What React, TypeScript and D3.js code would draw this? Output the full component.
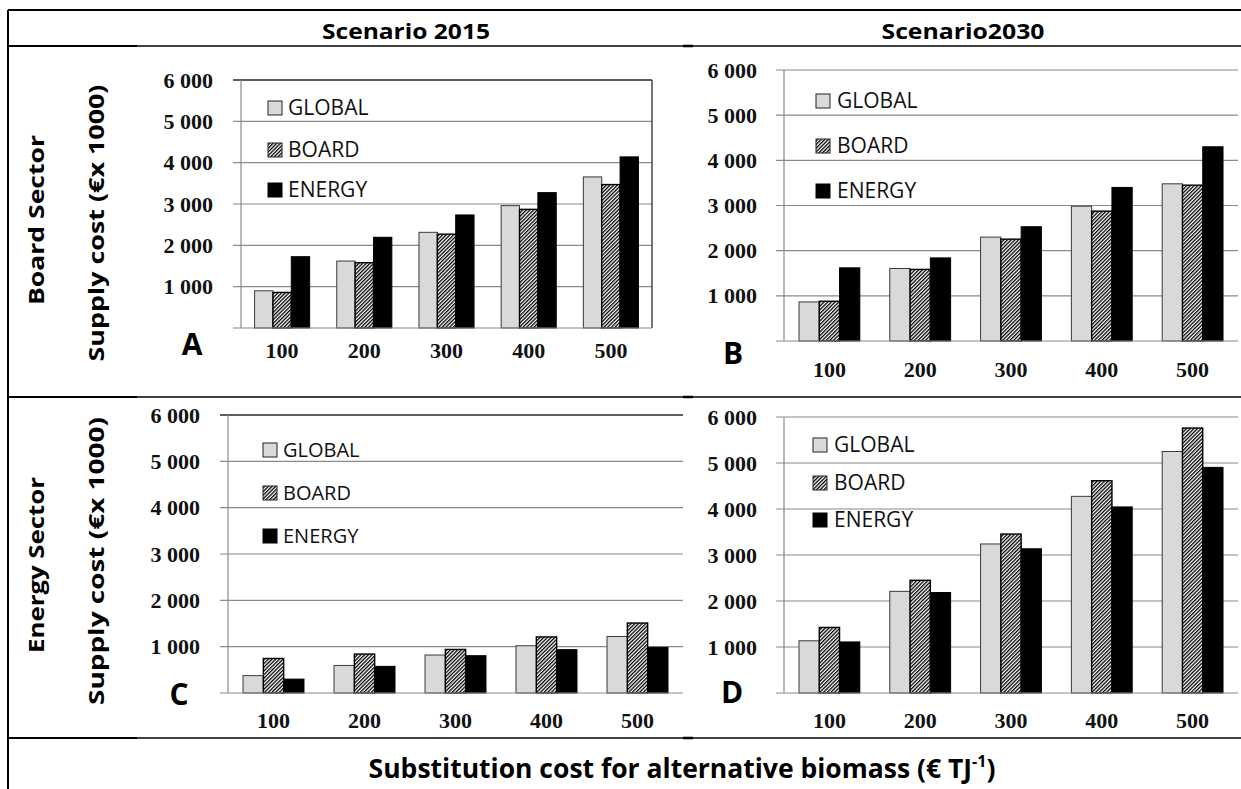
import React from "react";
import * as d3 from "d3";

// ---------- data ----------
const categories = ["100", "200", "300", "400", "500"];
const seriesNames = ["GLOBAL", "BOARD", "ENERGY"];
const yTickValues = [1000, 2000, 3000, 4000, 5000, 6000];

const boardSector2015Global = [900, 1620, 2315, 2960, 3655];
const boardSector2015Board = [860, 1580, 2270, 2870, 3470];
const boardSector2015Energy = [1725, 2195, 2735, 3275, 4140];

const boardSector2030Global = [865, 1605, 2300, 2985, 3480];
const boardSector2030Board = [880, 1585, 2255, 2875, 3450];
const boardSector2030Energy = [1620, 1840, 2530, 3400, 4300];

const energySector2015Global = [375, 595, 820, 1020, 1220];
const energySector2015Board = [745, 840, 940, 1210, 1510];
const energySector2015Energy = [300, 575, 805, 935, 985];

const energySector2030Global = [1135, 2210, 3240, 4275, 5250];
const energySector2030Board = [1425, 2450, 3455, 4615, 5760];
const energySector2030Energy = [1110, 2185, 3135, 4045, 4905];

const columnTitles = ["Scenario 2015", "Scenario2030"];
const rowTitles = ["Board Sector", "Energy Sector"];
const yAxisTitle = "Supply cost (€x 1000)";
const footerTitle = "Substitution cost for alternative biomass (€ TJ";

// ---------- layout ----------
const panels = [
  {
    id: "A", values: [boardSector2015Global, boardSector2015Board, boardSector2015Energy],
    x0: 241, x1: 652, yTop: 80, yBase: 328, tickRight: 213, labelY: 358,
    letterX: 192, letterY: 355, legX: 268, legTextX: 288, legY: [115, 157, 197], legFont: 21,
    frameTop: true, frameRight: true,
  },
  {
    id: "B", values: [boardSector2030Global, boardSector2030Board, boardSector2030Energy],
    x0: 784, x1: 1238, yTop: 70, yBase: 341, tickRight: 757, labelY: 377,
    letterX: 733, letterY: 364, legX: 816, legTextX: 837, legY: [108, 153, 198], legFont: 21,
    frameTop: false, frameRight: false,
  },
  {
    id: "C", values: [energySector2015Global, energySector2015Board, energySector2015Energy],
    x0: 228, x1: 683, yTop: 415, yBase: 693, tickRight: 200, labelY: 728,
    letterX: 179, letterY: 705, legX: 263, legTextX: 283, legY: [457, 500, 543], legFont: 20,
    frameTop: true, frameRight: false,
  },
  {
    id: "D", values: [energySector2030Global, energySector2030Board, energySector2030Energy],
    x0: 784, x1: 1238, yTop: 417, yBase: 693, tickRight: 757, labelY: 728,
    letterX: 732, letterY: 703, legX: 813, legTextX: 834, legY: [452, 490, 527], legFont: 21,
    frameTop: false, frameRight: false,
  },
];

const fmt = d3.formatLocale({ decimal: ".", thousands: " ", grouping: [3], currency: ["", ""] }).format(",");

const SANS = "'Open Sans', 'DejaVu Sans', sans-serif";
const SERIF = "'Liberation Serif', 'Times New Roman', serif";
const GRID = "#8a8a8a";

const fills = ["#d9d9d9", "url(#hatch)", "#000000"];
const strokes = ["#3a3a3a", "#000000", "#000000"];

function Panel({ p }: { p: any }) {
  const x = d3.scaleBand<string>().domain(categories).range([p.x0, p.x1]).paddingInner(0.33).paddingOuter(0.165);
  const xs = d3.scaleBand<string>().domain(seriesNames).range([0, x.bandwidth()]);
  const y = d3.scaleLinear().domain([0, 6000]).range([p.yBase, p.yTop]);
  return (
    <g>
      {/* gridlines with left ticks */}
      {yTickValues.map((t) => (
        <line key={t} x1={p.x0 - 8} x2={p.x1} y1={y(t)} y2={y(t)} stroke={GRID} strokeWidth={1.2} />
      ))}
      {p.frameTop && (
        <line x1={p.x0 - 8} x2={p.x1} y1={y(6000)} y2={y(6000)} stroke="#3c3c3c" strokeWidth={1.4} />
      )}
      {p.frameRight && (
        <line x1={p.x1} x2={p.x1} y1={y(6000)} y2={y(0)} stroke="#3c3c3c" strokeWidth={1.4} />
      )}
      {/* y axis */}
      <line x1={p.x0} x2={p.x0} y1={y(6000)} y2={y(0)} stroke={GRID} strokeWidth={1.2} />
      {/* tick labels */}
      {yTickValues.map((t) => (
        <text key={t} x={p.tickRight} y={y(t) + 7.5} textAnchor="end" fontFamily={SERIF} fontWeight="bold" fontSize={22} fill="#111">
          {fmt(t)}
        </text>
      ))}
      {/* bars */}
      {categories.map((c, i) => (
        <g key={c}>
          {seriesNames.map((s, k) => {
            const v = p.values[k][i];
            return (
              <rect
                key={s}
                x={(x(c) as number) + (xs(s) as number)}
                y={y(v)}
                width={xs.bandwidth()}
                height={y(0) - y(v)}
                fill={fills[k]}
                stroke={strokes[k]}
                strokeWidth={k === 1 ? 1.4 : 1}
              />
            );
          })}
        </g>
      ))}
      {/* baseline */}
      <line x1={p.x0 - 8} x2={p.x1} y1={y(0)} y2={y(0)} stroke={GRID} strokeWidth={1.2} />
      {/* x labels */}
      {categories.map((c) => (
        <text key={c} x={(x(c) as number) + x.bandwidth() / 2} y={p.labelY} textAnchor="middle" fontFamily={SERIF} fontWeight="bold" fontSize={22} fill="#111">
          {c}
        </text>
      ))}
      {/* legend */}
      {seriesNames.map((s, k) => (
        <g key={s}>
          <rect x={p.legX} y={p.legY[k] - 14} width={14} height={14} fill={fills[k]} stroke={k === 2 ? "#000" : "#222"} strokeWidth={1} />
          <text x={p.legTextX} y={p.legY[k]} fontFamily={SANS} fontSize={p.legFont} fill="#111">
            {s}
          </text>
        </g>
      ))}
      {/* panel letter */}
      <text x={p.letterX} y={p.letterY} textAnchor="middle" fontFamily={SANS} fontWeight="bold" fontSize={30} fill="#000">
        {p.id}
      </text>
    </g>
  );
}

export default function App() {
  const W = 1241;
  const H = 789;
  return (
    <svg
      width={W}
      height={H}
      style={{ position: "fixed", left: 0, top: 0, background: "#fff" }}
      xmlns="http://www.w3.org/2000/svg"
    >
      <defs>
        <pattern id="hatch" width={2.6} height={2.6} patternUnits="userSpaceOnUse" patternTransform="rotate(45)">
          <rect width={2.6} height={2.6} fill="#fff" />
          <line x1={0.65} y1={0} x2={0.65} y2={2.6} stroke="#000" strokeWidth={1.3} />
        </pattern>
      </defs>
      <rect x={0} y={0} width={W} height={H} fill="#fff" />

      {/* table frame */}
      <line x1={8} x2={8} y1={10} y2={H} stroke="#000" strokeWidth={2} />
      <line x1={8} x2={W} y1={10} y2={10} stroke="#000" strokeWidth={2} />
      {[46, 397, 738].map((yy) => (
        <g key={yy}>
          <line x1={8} x2={W} y1={yy} y2={yy} stroke="#000" strokeWidth={1.3} />
          <line x1={8} x2={137} y1={yy} y2={yy} stroke="#000" strokeWidth={2.2} />
          <line x1={683} x2={693} y1={yy} y2={yy} stroke="#000" strokeWidth={2.5} />
        </g>
      ))}

      {/* column headers */}
      <text x={406} y={39} textAnchor="middle" fontFamily={SANS} fontWeight="bold" fontSize={21} textLength={168} lengthAdjust="spacingAndGlyphs" fill="#000">
        {columnTitles[0]}
      </text>
      <text x={963} y={39} textAnchor="middle" fontFamily={SANS} fontWeight="bold" fontSize={21} textLength={163} lengthAdjust="spacingAndGlyphs" fill="#000">
        {columnTitles[1]}
      </text>

      {/* row titles */}
      <text transform="translate(44,220) rotate(-90)" textAnchor="middle" fontFamily={SANS} fontWeight="bold" fontSize={22} textLength={170} lengthAdjust="spacingAndGlyphs" fill="#000">
        {rowTitles[0]}
      </text>
      <text transform="translate(104,223) rotate(-90)" textAnchor="middle" fontFamily={SANS} fontWeight="bold" fontSize={22} textLength={277} lengthAdjust="spacingAndGlyphs" fill="#000">
        {yAxisTitle}
      </text>
      <text transform="translate(44,565) rotate(-90)" textAnchor="middle" fontFamily={SANS} fontWeight="bold" fontSize={22} textLength={176} lengthAdjust="spacingAndGlyphs" fill="#000">
        {rowTitles[1]}
      </text>
      <text transform="translate(104,561) rotate(-90)" textAnchor="middle" fontFamily={SANS} fontWeight="bold" fontSize={22} textLength={288} lengthAdjust="spacingAndGlyphs" fill="#000">
        {yAxisTitle}
      </text>

      {panels.map((p) => (
        <Panel key={p.id} p={p} />
      ))}

      {/* footer */}
      <text x={682} y={778} textAnchor="middle" fontFamily={SANS} fontWeight="bold" fontSize={26.5} fill="#000">
        {footerTitle}
        <tspan fontSize={16} dy={-11}>-1</tspan>
        <tspan dy={11}>)</tspan>
      </text>
    </svg>
  );
}
